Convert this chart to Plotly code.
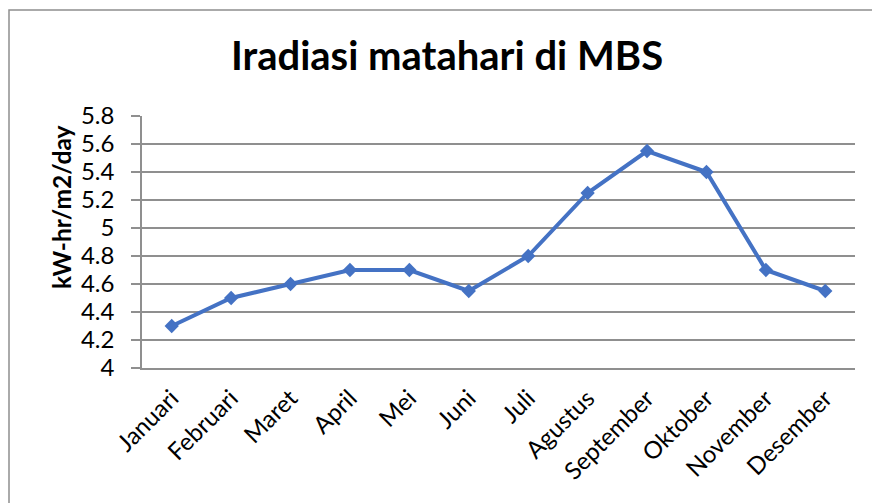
import plotly.graph_objects as go

months = ["Januari", "Februari", "Maret", "April", "Mei", "Juni", "Juli",
          "Agustus", "September", "Oktober", "November", "Desember"]
irradiance = [4.3, 4.5, 4.6, 4.7, 4.7, 4.55, 4.8, 5.25, 5.55, 5.4, 4.7, 4.55]
y_ticks = [4, 4.2, 4.4, 4.6, 4.8, 5, 5.2, 5.4, 5.6, 5.8]
y_tick_text = ["4", "4.2", "4.4", "4.6", "4.8", "5", "5.2", "5.4", "5.6", "5.8"]

W, H = 872, 503
L, R, T, B = 142, 17, 116, 135
pw = W - L - R
ph = H - T - B
GRAY = "#8f8f8f"
FONT = "Lato"

fig = go.Figure()
fig.add_trace(go.Scatter(
    x=months, y=irradiance, mode="lines+markers",
    line=dict(color="#4472C4", width=4),
    marker=dict(symbol="diamond", size=11, color="#4472C4"),
    showlegend=False, hoverinfo="x+y",
))

fig.update_layout(
    width=W, height=H,
    margin=dict(l=L, r=R, t=T, b=B),
    paper_bgcolor="white", plot_bgcolor="white",
    font=dict(family=FONT, size=24, color="black"),
    title=dict(text="<b>Iradiasi matahari di MBS</b>", x=447 / W, xanchor="center",
               xref="container", y=1 - 42 / H, yanchor="top", yref="container",
               font=dict(family=FONT, size=40, color="black")),
    xaxis=dict(type="category", categoryorder="array", categoryarray=months,
               range=[-0.5, 11.5], tickangle=-45, showgrid=False, zeroline=False,
               showline=True, linecolor=GRAY, linewidth=1.5, ticks="",
               tickfont=dict(family=FONT, size=24, color="black"),
               ticklabelstandoff=5),
    xaxis2=dict(overlaying="x", side="top", range=[-0.5, 11.5],
                tickvals=[i - 0.5 for i in range(13)], ticks="inside", ticklen=8,
                tickcolor=GRAY, tickwidth=1.5, showline=True, linecolor=GRAY,
                linewidth=1.5, showticklabels=False, showgrid=False, zeroline=False),
    yaxis=dict(range=[4, 5.8], tickvals=y_ticks, ticktext=y_tick_text,
               showgrid=True, gridcolor=GRAY, gridwidth=1.5, zeroline=False,
               showline=True, linecolor=GRAY, linewidth=1.5,
               ticks="outside", ticklen=9, tickcolor=GRAY, tickwidth=1.5,
               tickfont=dict(family=FONT, size=24, color="black"),
               ticklabelstandoff=12),
    annotations=[dict(text="<b>kW-hr/m2/day</b>", textangle=-90,
                      xref="paper", yref="paper",
                      x=(61 - L) / pw, y=(H - B - 207) / ph,
                      xanchor="center", yanchor="middle", showarrow=False,
                      font=dict(family=FONT, size=24.5, color="black"))],
    shapes=[dict(type="rect", xref="paper", yref="paper",
                 xsizemode="pixel", ysizemode="pixel", xanchor=0, yanchor=1,
                 x0=9 - L, x1=W - L + 20, y0=T - 10, y1=-(H - T) - 20,
                 line=dict(color=GRAY, width=1.5), fillcolor="rgba(0,0,0,0)",
                 layer="below")],
)

fig.write_html("out.html", config={"displayModeBar": False},
               post_script="document.body.style.margin='0';document.body.style.overflow='hidden';")
